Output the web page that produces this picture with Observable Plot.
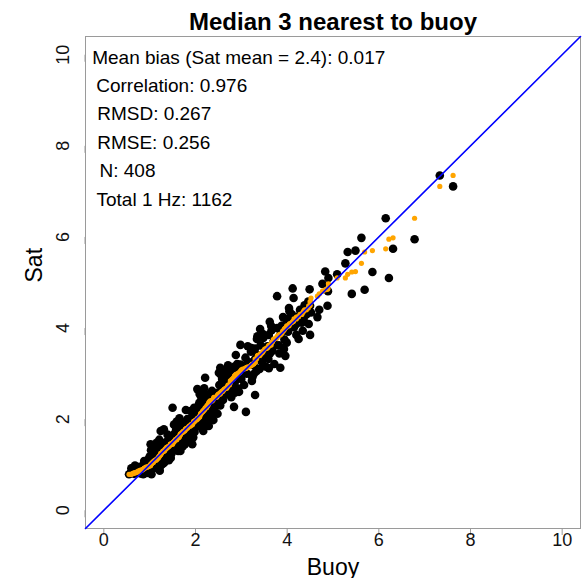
<!DOCTYPE html>
<html>
<head>
<meta charset="utf-8">
<script src="https://cdn.jsdelivr.net/npm/d3@7"></script>
<script src="https://cdn.jsdelivr.net/npm/@observablehq/plot@0.6"></script>
<style>
  html, body { margin: 0; padding: 0; background: white; }
</style>
</head>
<body>
<div id="chart"></div>
<script>
const titleText = "Median 3 nearest to buoy";
const xLabel = "Buoy";
const yLabel = "Sat";
const xTicks = [0, 2, 4, 6, 8, 10];
const yTicks = [0, 2, 4, 6, 8, 10];
const statsLines = [
  "Mean bias (Sat mean = 2.4): 0.017",
  "Correlation: 0.976",
  "RMSD: 0.267",
  "RMSE: 0.256",
  "N: 408",
  "Total 1 Hz: 1162"
];

// [buoy, sat] pairs
const lowPoints = [
  [0.58,0.82],[0.62,0.86],[0.66,0.80],[0.70,0.90],[0.72,0.84],[0.75,0.95],[0.78,0.88],[0.80,0.81],
  [0.83,0.97],[0.85,0.90],[0.88,1.02],[0.90,0.84],[0.92,0.95],[0.95,1.10],[0.97,0.88],[0.99,1.00],
  [0.60,0.92],[0.68,0.98],[0.74,0.83],[0.86,0.79],[0.94,0.82],
  [1.00,1.18],[1.02,0.96],[1.04,1.05],[1.06,1.25],[1.08,0.92],[1.10,1.12],[1.12,1.30],[1.14,1.02],
  [1.16,1.20],[1.18,1.38],[1.20,1.08],[1.22,1.28],[1.24,0.98],[1.26,1.15],[1.28,1.42],[1.30,1.22],
  [1.32,1.05],[1.34,1.35],[1.36,1.50],[1.38,1.18],[1.40,1.30],[1.42,1.10],[1.44,1.45],[1.46,1.58],
  [1.48,1.25],[1.03,1.32],[1.09,1.40],[1.15,1.48],[1.21,1.55],[1.33,1.20],[1.39,1.66],
  [1.45,1.38],[1.19,0.95],[1.29,1.02],[1.37,1.12]
];
const midPoints = [
  [1.50,1.52],[1.52,1.35],[1.54,1.68],[1.56,1.45],[1.58,1.78],[1.60,1.55],[1.62,1.30],[1.64,1.62],
  [1.66,1.85],[1.68,1.50],[1.70,1.72],[1.72,1.40],[1.74,1.92],[1.76,1.65],[1.78,1.80],[1.80,1.55],
  [1.82,2.00],[1.84,1.75],[1.86,1.60],[1.88,1.95],[1.90,1.82],[1.92,1.68],[1.94,2.08],[1.96,1.88],
  [1.98,1.72],[1.53,1.88],[1.59,1.95],[1.65,2.02],[1.77,1.45],[1.89,2.18],
  [1.95,1.60],[1.67,1.38],[1.79,2.20],[1.97,2.25],[1.61,1.70],[1.73,1.58],
  [2.00,2.05],[2.02,1.85],[2.04,2.22],[2.06,1.98],[2.08,2.35],[2.10,1.90],[2.12,2.12],[2.14,1.80],
  [2.16,2.30],[2.18,2.02],[2.20,2.45],[2.22,2.15],[2.24,1.95],[2.26,2.38],[2.28,2.20],[2.30,2.55],
  [2.32,2.05],[2.34,2.30],[2.36,2.62],[2.38,2.18],[2.40,2.42],[2.42,2.25],[2.46,2.35],
  [2.48,2.12],[2.09,2.55],[2.15,2.60],[2.27,1.88],[2.39,1.98],
  [2.11,2.40],[2.19,2.68],[2.29,2.40],[2.37,2.48],[2.47,2.58],[2.25,2.50]
];
const upperPoints = [
  [2.50,2.48],[2.52,2.75],[2.54,2.30],[2.56,2.62],[2.58,2.88],[2.60,2.42],[2.62,2.70],
  [2.66,2.95],[2.68,2.55],[2.70,2.80],[2.74,3.02],[2.76,2.65],[2.78,2.48],[2.80,2.90],
  [2.82,2.72],[2.84,3.15],[2.86,2.58],[2.88,2.85],[2.90,3.05],[2.92,2.68],[2.96,2.95],
  [2.98,3.20],[2.55,2.98],[2.63,3.08],[2.71,3.18],[2.95,2.60],[2.59,2.52],
  [2.85,2.98],
  [3.00,2.88],[3.03,3.12],[3.06,2.75],[3.09,3.35],[3.12,3.00],[3.18,3.25],[3.21,3.48],
  [3.24,2.92],[3.27,3.18],[3.30,3.55],[3.33,3.05],[3.36,3.40],[3.42,3.62],[3.45,3.25],
  [3.48,3.78],[3.51,3.40],[3.54,3.15],[3.57,3.60],[3.60,3.85],[3.14,3.60],
  [3.35,3.82],[3.40,3.10],
  [3.63,3.45],[3.66,3.95],[3.70,3.70],[3.78,4.00],[3.82,3.62],[3.86,3.88],[3.90,4.05],
  [3.94,3.75],[3.98,4.20],[4.02,3.92],[4.06,4.15],[4.10,4.30],[4.15,4.02],[4.22,4.25],[4.28,4.40],
  [4.32,4.12],[4.38,4.50],[4.42,4.30],[4.46,4.58],[3.68,3.50],[4.36,4.20]
];
const outlierPoints = [
  [7.33,7.35],[7.62,7.11],[6.15,6.41],[6.78,5.95],[5.62,5.98],[6.31,5.74],[5.32,5.67],[5.49,5.70],
  [5.27,5.42],[5.86,5.23],[6.22,5.10],[4.83,5.24],[5.09,5.18],[4.90,5.10],[4.77,4.97],[4.89,4.81],
  [4.88,4.49],[5.41,4.75],[5.69,4.84],[4.12,4.87],[4.49,4.85],[3.78,4.70],[4.14,4.66],[4.04,4.44],
  [4.05,4.37],[4.50,4.49],[4.52,4.34],[4.66,4.24],[4.70,4.40],[4.47,4.09],[4.34,3.94],[4.50,3.85],
  [4.20,4.09],[3.91,4.24],[3.88,4.05],[3.62,4.14],[3.65,4.05],[3.41,3.98],[3.34,3.76],[3.47,3.87],
  [4.20,3.85],[4.25,3.76],[3.99,3.68],[3.93,3.54],[3.83,3.44],[3.96,3.39],[3.72,3.63],[3.56,3.57],
  [2.98,3.63],[2.88,3.41],[3.22,3.56],[3.30,3.32],[3.59,3.32],[3.72,3.21],[3.60,3.12],[3.85,3.13],
  [3.12,3.21],[3.27,2.99],[3.23,2.84],[3.30,2.53],[3.10,2.16],[2.84,2.27],[2.21,2.91],[1.50,2.25],
  [2.76,2.55],[2.54,3.13],[2.51,3.02],[2.69,2.99],[2.91,3.21],[2.25,2.40],[2.48,2.33],[2.29,1.85],
  [2.17,1.74],[1.93,1.45],[1.67,1.30],[1.46,1.15],[1.24,1.74],[1.31,1.78],[1.02,1.45],[0.88,1.08],
  [1.04,0.79],[1.22,0.87],[0.64,0.93],[0.55,0.79],[2.04,2.66],[2.83,3.10]
];

const points = [...lowPoints, ...midPoints, ...upperPoints, ...outlierPoints];

// Q-Q pairs: sorted buoy vs sorted sat
const sortedBuoy = d3.sort(points.map(d => d[0]));
const sortedSat = d3.sort(points.map(d => d[1]));
const qq = sortedBuoy.map((b, i) => [b, sortedSat[i]]);

const domain = [-0.4, 10.4];
const diag = domain.map(v => [v, v]);

const font = "'Liberation Sans', Arial, Helvetica, sans-serif";
const statsDx = [6.7, 10.7, 11.7, 11.7, 14, 11];

const chart = Plot.plot({
  width: 584,
  height: 578,
  marginLeft: 85,
  marginRight: 4,
  marginTop: 36,
  marginBottom: 50,
  x: { domain },
  y: { domain },
  style: { fontFamily: font, background: "white", color: "black" },
  marks: [
    Plot.frame({ stroke: "#9a9a9a" }),
    Plot.axisX(xTicks, { tickSize: 7, tickPadding: -2, fontSize: 18, stroke: "#9a9a9a", fill: "#111", label: null }),
    Plot.axisY(yTicks, { tickSize: 7, tickPadding: 10, fontSize: 18, stroke: "#9a9a9a", fill: "#111", rotate: -90, textAnchor: "middle", lineAnchor: "bottom", label: null }),
    Plot.dot(points, { x: d => d[0], y: d => d[1], r: 4.3, fill: "black", stroke: "none" }),
    Plot.dot(qq, { x: d => d[0], y: d => d[1], r: 2.6, fill: "orange", stroke: "none" }),
    Plot.line(diag, { x: d => d[0], y: d => d[1], stroke: "blue", strokeWidth: 1.6 }),
    Plot.text([titleText], { frameAnchor: "top", dy: -7, lineAnchor: "bottom", fontSize: 24, fontWeight: "bold", fill: "black" }),
    Plot.text([xLabel], { frameAnchor: "bottom", dy: 46, lineAnchor: "bottom", fontSize: 23, fill: "black" }),
    Plot.text([yLabel], { frameAnchor: "left", dx: -44, rotate: -90, lineAnchor: "bottom", fontSize: 23, fill: "black" }),
    ...statsLines.map((s, i) => Plot.text([s], {
      frameAnchor: "top-left", textAnchor: "start", lineAnchor: "bottom",
      dx: statsDx[i], dy: 27 + 28.4 * i, fontSize: 19, fill: "black"
    }))
  ]
});
document.getElementById("chart").appendChild(chart);
</script>
</body>
</html>
